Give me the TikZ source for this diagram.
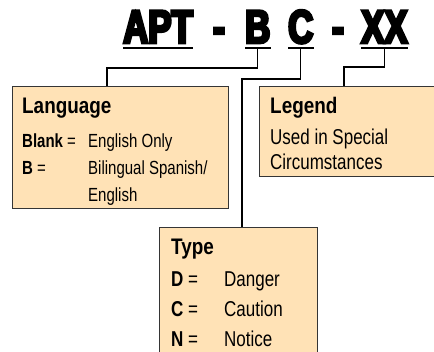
\documentclass[tikz,border=0pt]{standalone}
\usepackage{fontspec}
\setmainfont{Liberation Sans}[FakeStretch=0.79]
\newfontfamily\headfont{Liberation Sans}[FakeStretch=0.84]
\newfontfamily\codefont{Liberation Sans}[UprightFont={* Bold}, FakeStretch=0.74, FakeBold=6]
\usepackage{tikz}
\usetikzlibrary{positioning}
\definecolor{boxfill}{HTML}{FFE2B6}
\definecolor{boxline}{HTML}{353535}

\begin{document}
\begin{tikzpicture}[
        x=1pt, y=-1pt,
        infobox/.style={
          draw=boxline,
          line width=1.3pt,
          fill=boxfill,
          anchor=north west,
          inner sep=0pt
        },
        codechar/.style={anchor=base west, inner sep=0pt, text depth=0pt,
          font=\codefont\fontsize{47}{47}\selectfont},
        boxhead/.style={anchor=base west, inner sep=0pt,
          font=\headfont\bfseries\fontsize{22.5}{22.5}\selectfont},
        boxrow/.style={anchor=base west, inner sep=0pt, font=\fontsize{21.5}{23}\selectfont},
        smallrow/.style={anchor=base west, inner sep=0pt, font=\fontsize{19}{21}\selectfont},
        uline/.style={line width=2.4pt},
        link/.style={line width=1.3pt, draw=black}
      ]
        \useasboundingbox (0,0) rectangle (434,352);

        % part number
        \node[codechar] (apt) at (123,43) {APT};
        \node[codechar] (dasha) at (213,43) {-};
        \node[codechar] (b) at (245,43) {B};
        \node[codechar] (c) at (288,43) {C};
        \node[codechar] (dashb) at (332,43) {-};
        \node[codechar] (xx) at (361,43) {XX};
        \foreach \n in {apt,b,c,xx}
          \draw[uline] ([yshift=-5pt]\n.south west) -- ([yshift=-5pt]\n.south east);

        % boxes
        \node[infobox, minimum width=216pt, minimum height=122pt] (lang) at (12,86) {};
        \node[infobox, minimum width=190pt, minimum height=90pt] (legend) at (259,86) {};
        \node[infobox, minimum width=158pt, minimum height=130pt] (type) at (159,227) {};

        \node[boxhead] (langhead) at (22,114) {Language};
        \node[smallrow] (blank) at (22,148) {\bfseries Blank \mdseries=};
        \node[smallrow] (blanktxt) at (88,148) {English Only};
        \node[smallrow] (bkey) at (22,175) {\bfseries B \mdseries=};
        \node[smallrow] (btxt) at (88,175) {Bilingual Spanish/};
        \node[smallrow] (btxtb) at (88,202) {English};

        \node[boxhead] (legendhead) at (270,114) {Legend};
        \node[boxrow] (legendtxt) at (270,145) {Used in Special};
        \node[boxrow] (legendtxtb) at (270,170) {Circumstances};

        \node[boxhead] (typehead) at (171,255) {Type};
        \foreach \k/\t/\yy in {D/Danger/287, C/Caution/317, N/Notice/347} {
          \node[boxrow] (key\k) at (171,\yy) {\bfseries\k\ \mdseries=};
          \node[boxrow] (txt\k) at (224,\yy) {\t};
        }

        % connectors
        \coordinate (bendb) at (107,68);
        \coordinate (bendc) at (242,79);
        \coordinate (bendx) at (344,67);
        \draw[link] ([yshift=-5pt]b.south) |- (bendb) -- (bendb |- lang.north);
        \draw[link] ([yshift=-5pt]c.south) |- (bendc) -- (bendc |- type.north);
        \draw[link] ([yshift=-5pt]xx.south) |- (bendx) -- (bendx |- legend.north);
      \end{tikzpicture}
\end{document}
